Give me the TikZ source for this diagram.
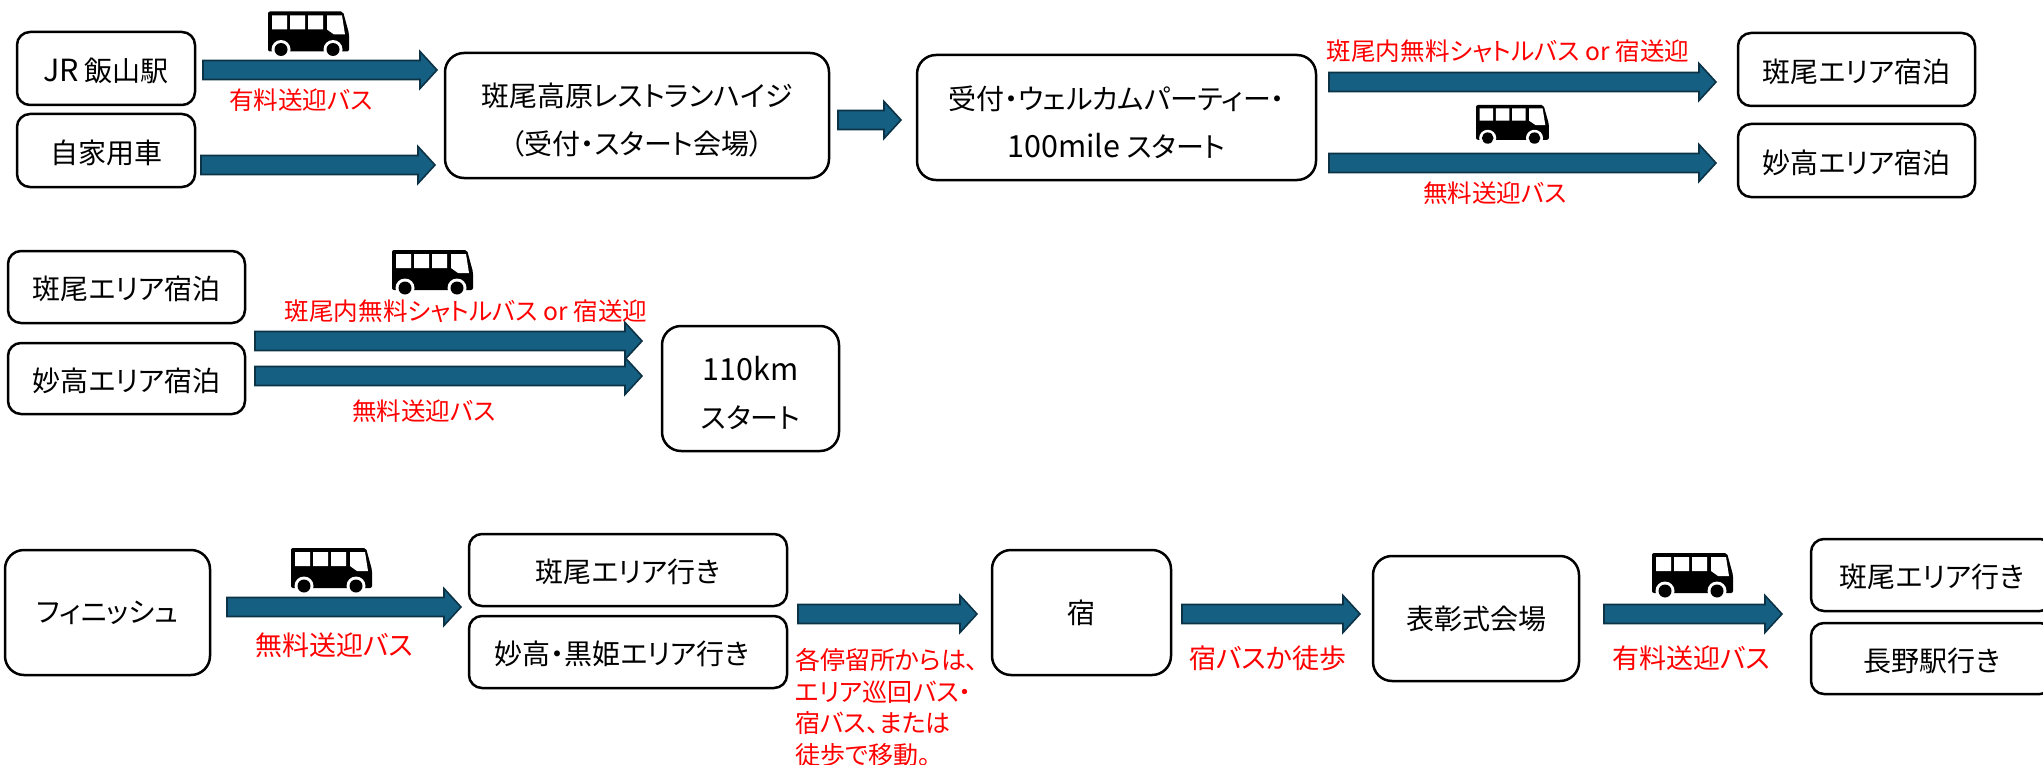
\documentclass[tikz,border=0pt]{standalone}
\usepackage{fontspec}
\setmainfont{Noto Sans CJK JP}[RawFeature={+palt}]
\usetikzlibrary{calc}
\definecolor{arrowfill}{RGB}{21,96,130}
\definecolor{arrowedge}{RGB}{12,50,70}
\newcommand{\boxfont}{\fontsize{28}{48}\selectfont}
\newcommand{\redfont}{\fontsize{24.6}{31}\selectfont}
\newcommand{\latinbig}[1]{{\fontsize{30.5}{48}\selectfont #1}}
\tikzset{
	basebox/.style={draw=black, line width=2.5pt, rounded corners=13pt, fill=white, align=center, font=\boxfont, inner sep=0pt},
	stopbox/.style={basebox, execute at begin node={\rule{0pt}{28pt}}},
	bigbox/.style={basebox, rounded corners=19pt},
	twolines/.style={bigbox, execute at begin node={\rule{0pt}{81pt}}},
	redlabel/.style={text=red, font=\redfont, inner sep=0pt, align=left},
	blockarrow/.style={draw=arrowedge, fill=arrowfill, line width=1.6pt, to path={
		let \p1=(\tikztostart), \p2=(\tikztotarget) in
		(\x1,\y1-9.5pt) -- (\x2-17pt,\y1-9.5pt) -- (\x2-17pt,\y1-18.5pt) -- (\x2,\y1)
		-- (\x2-17pt,\y1+18.5pt) -- (\x2-17pt,\y1+9.5pt) -- (\x1,\y1+9.5pt) -- cycle}},
	bus/.pic={
		\fill[black, rounded corners=2pt] (0,0) -- (75,0) -- (81,22) -- (81,40) -- (0,40) -- cycle;
		\fill[white] (4,4) rectangle (19,18) (22,4) rectangle (37,18) (40,4) rectangle (55,18);
		\fill[white] (59,4) -- (74,4) -- (77,23) -- (66,23) -- (59,18) -- cycle;
		\fill[white] (13,38) circle (9.5pt) (65,38) circle (9.5pt);
		\fill[black] (13,38) circle (6.5pt) (65,38) circle (6.5pt);
	}
}
\begin{document}
\begin{tikzpicture}[x=1pt,y=-1pt]
	\useasboundingbox (0,0) rectangle (2043,765);
	\clip (0,0) rectangle (2043,765);
	% first row
	\node[stopbox, minimum width=178pt, minimum height=73pt] (jr) at (106,68.5) {\latinbig{JR} 飯山駅};
	\node[stopbox, minimum width=178pt, minimum height=73pt] (car) at (106,150.5) {自家用車};
	\node[twolines, minimum width=384pt, minimum height=125pt] (madarao) at (637,115.5) {斑尾高原レストランハイジ\\（受付・スタート会場）};
	\node[twolines, minimum width=399pt, minimum height=125pt] (welcome) at (1116.5,117.5) {受付・ウェルカムパーティー・\\\latinbig{100mile} スタート};
	\node[stopbox, minimum width=237pt, minimum height=73pt] (stayA) at (1856.5,69.5) {斑尾エリア宿泊};
	\node[stopbox, minimum width=237pt, minimum height=73pt] (stayB) at (1856.5,160.5) {妙高エリア宿泊};
	% second row
	\node[stopbox, minimum width=237pt, minimum height=72pt] (stayC) at (126.5,287) {斑尾エリア宿泊};
	\node[stopbox, minimum width=237pt, minimum height=71pt] (stayD) at (126.5,378.5) {妙高エリア宿泊};
	\node[twolines, minimum width=177pt, minimum height=125pt] (start) at (750.5,388.5) {\latinbig{110km}\\スタート};
	% third row
	\node[bigbox, minimum width=205pt, minimum height=125pt] (finish) at (107.5,612.5) {フィニッシュ};
	\node[stopbox, minimum width=318pt, minimum height=72pt] (goA) at (628,570) {斑尾エリア行き};
	\node[stopbox, minimum width=318pt, minimum height=72pt] (goB) at (628,652) {妙高・黒姫エリア行き\hspace*{12pt}};
	\node[bigbox, minimum width=179pt, minimum height=125pt] (inn) at (1081.5,612.5) {宿};
	\node[bigbox, minimum width=206pt, minimum height=125pt] (award) at (1476,618.5) {表彰式会場};
	\node[stopbox, minimum width=242pt, minimum height=72pt] (goC) at (1932,575) {斑尾エリア行き};
	\node[stopbox, minimum width=242pt, minimum height=71pt] (goD) at (1932,658.5) {長野駅行き};
	% arrows
	\foreach \name/\xa/\xb/\ya in {jrline/203/437/70, carline/201/435/165, midline/838/901/120,
		shuttle/1329/1716/82, freebus/1329/1716/163, shuttleb/255/642/341, freebusb/255/642/376,
		finishline/227/461/607, stopline/798/977/614, innline/1182/1360/614, awardline/1604/1782/614}
	{
		\coordinate (\name s) at (\xa,\ya);
		\coordinate (\name e) at (\xb,\ya);
		\draw[blockarrow] (\name s) to (\name e);
	}
	% buses
	\pic at (268,11.5) {bus};
	\pic[xscale=.9,yscale=.87] at (1476,105) {bus};
	\pic at (392,250) {bus};
	\pic at (291,548) {bus};
	\pic at (1652,553) {bus};
	% red labels
	\node[redlabel] (lblA) at (301,100) {有料送迎バス};
	\node[redlabel] (lblB) at (1508,51) {斑尾内無料シャトルバス or 宿送迎};
	\node[redlabel] (lblC) at (1495,193) {無料送迎バス};
	\node[redlabel] (lblD) at (466,311) {斑尾内無料シャトルバス or 宿送迎};
	\node[redlabel] (lblE) at (424,411) {無料送迎バス};
	\node[redlabel, font=\fontsize{27}{31}\selectfont] (lblF) at (334,645) {無料送迎バス};
	\node[redlabel, anchor=north west, font=\fontsize{25}{31.7}\selectfont] (lblG) at (795,648) {各停留所からは、\\エリア巡回バス・\\宿バス、または\\徒歩で移動。};
	\node[redlabel, font=\fontsize{27}{31}\selectfont] (lblH) at (1268,658) {宿バスか徒歩};
	\node[redlabel, font=\fontsize{27}{31}\selectfont] (lblI) at (1691.5,658) {有料送迎バス};
\end{tikzpicture}
\end{document}
